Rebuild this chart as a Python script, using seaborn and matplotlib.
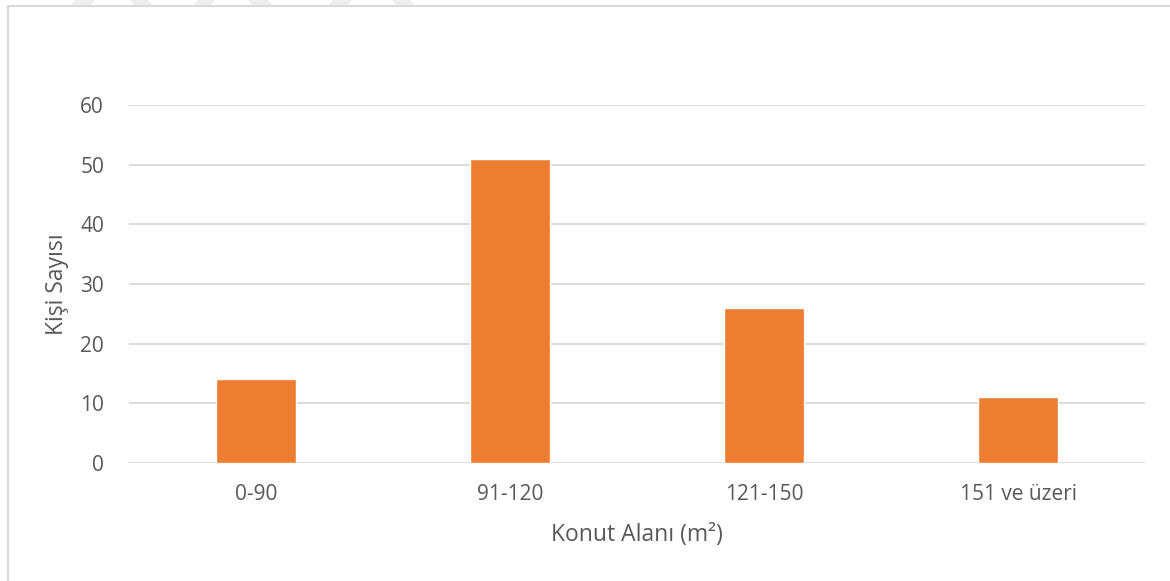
import matplotlib
matplotlib.use("Agg")
import matplotlib.pyplot as plt
from matplotlib.patches import Polygon
from matplotlib.lines import Line2D
import seaborn as sns
import pandas as pd

categories = ["0-90", "91-120", "121-150", "151 ve üzeri"]
values = [14, 51, 26, 11]
yticks = [0, 10, 20, 30, 40, 50, 60]

sns.set_theme(style="white")
plt.rcParams['font.family'] = ['Open Sans', 'DejaVu Sans']

W, H = 1170, 581
fig = plt.figure(figsize=(W / 100, H / 100), dpi=100)
ax = fig.add_axes([129 / W, 1 - 463 / H, (1145 - 129) / W, (463 - 105) / H])

df = pd.DataFrame({"cat": categories, "val": values})
sns.barplot(data=df, x="cat", y="val", color="#ED7D31", saturation=1,
            width=0.315, ax=ax, zorder=3)

ax.set_ylim(0, 60)
ax.set_xlim(-0.5, 3.5)
ax.set_yticks(yticks)
ax.yaxis.grid(True, color="#D9D9D9", linewidth=1.3, zorder=0)
ax.xaxis.grid(False)
for s in ax.spines.values():
    s.set_visible(False)
ax.tick_params(axis="both", length=0, labelsize=15, colors="#595959")
ax.tick_params(axis="x", pad=15)
ax.tick_params(axis="y", pad=18)
ax.set_xlabel("Konut Alanı (m²)", fontsize=16.5, color="#595959", labelpad=13)
ax.set_ylabel("Kişi Sayısı", fontsize=16.5, color="#595959", labelpad=8)

# chart frame
fig.add_artist(Line2D([8 / W, 8 / W], [0, 1 - 6 / H], transform=fig.transFigure,
                      color="#D9D9D9", linewidth=1.5))
fig.add_artist(Line2D([8 / W, 1], [1 - 6 / H, 1 - 6 / H], transform=fig.transFigure,
                      color="#D9D9D9", linewidth=1.5))

# faint watermark chevrons at top
marks = [(70, 95, 1), (130, 153, -1), (193, 215, 1), (248, 273, -1), (328, 352, 1), (392, 415, -1)]
for x0, x1, d in marks:
    if d == 1:
        pts = [(x0 + 5, 0), (x1, 0), (x1 - 5, 6), (x0, 6)]
    else:
        pts = [(x0, 0), (x1 - 5, 0), (x1, 6), (x0 + 5, 6)]
    pts = [(px / W, 1 - py / H) for px, py in pts]
    fig.add_artist(Polygon(pts, closed=True, transform=fig.transFigure,
                           facecolor="#EEEEEE", edgecolor="none", linewidth=0))

fig.savefig("out.png", dpi=100)
